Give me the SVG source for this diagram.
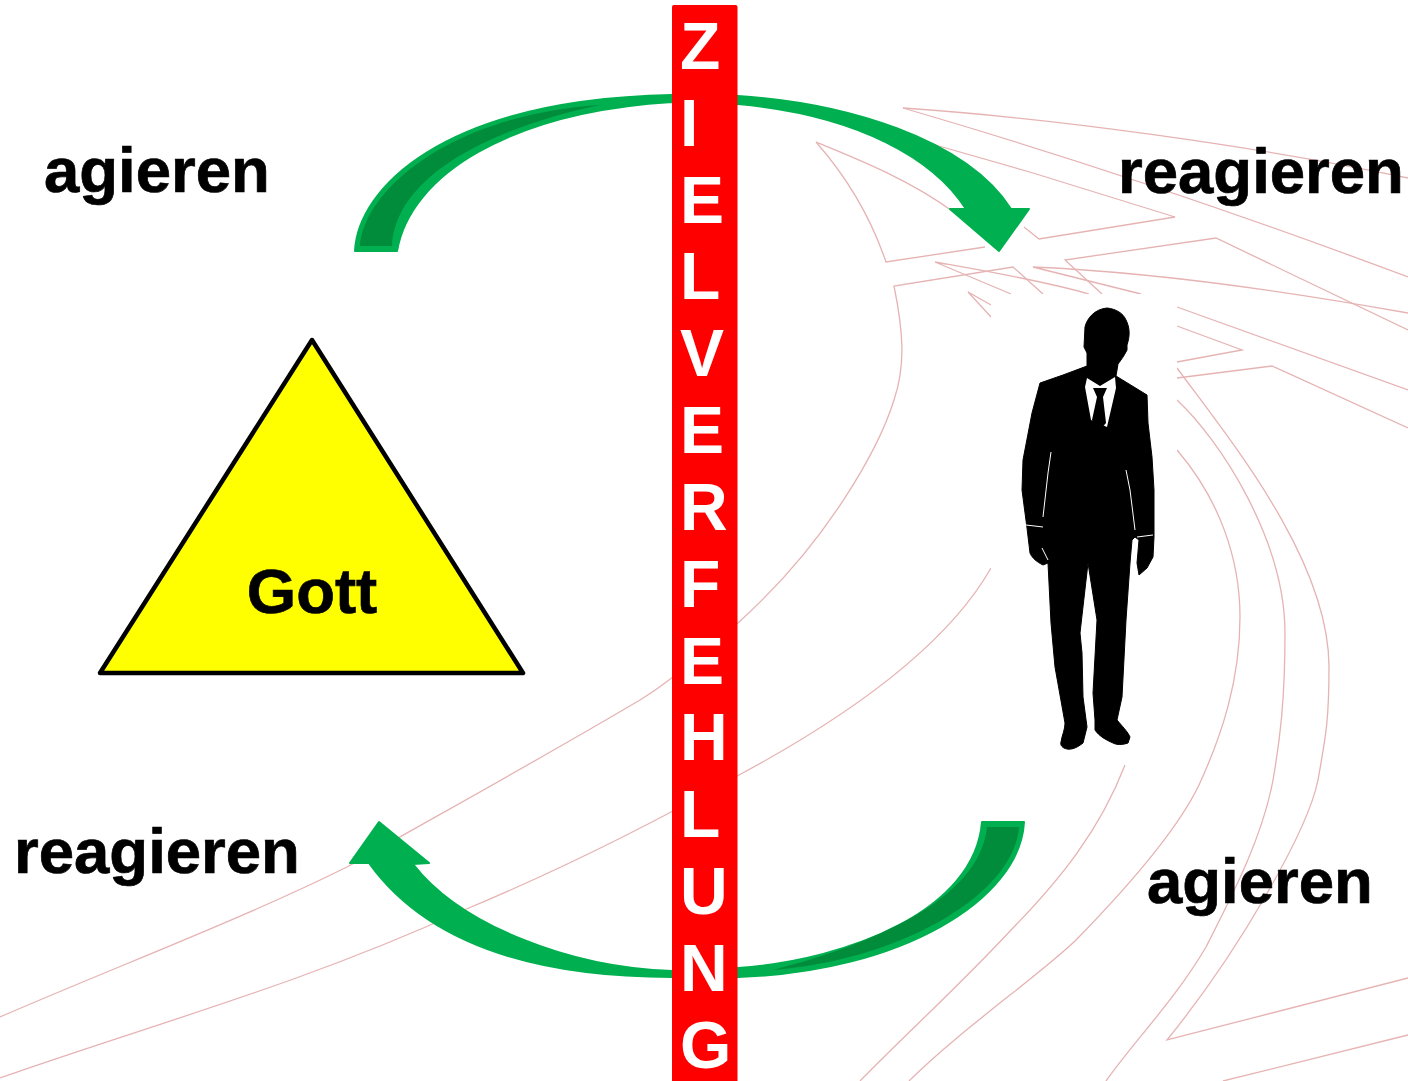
<svg xmlns="http://www.w3.org/2000/svg" width="1408" height="1081" viewBox="0 0 1408 1081">
<style>
.bg{fill:none;stroke:#e6b3b3;stroke-width:1.3}
.lbl{font-family:"Liberation Sans",Arial,sans-serif;font-weight:700;font-size:63.5px;fill:#000;stroke:#000;stroke-width:.7}
.bar{font-family:"Liberation Sans",Arial,sans-serif;font-weight:700;font-size:66px;fill:#fff}
.arrow{fill:#00b050;stroke:#00b050;stroke-width:2;stroke-linejoin:round}
.tail{fill:#008c3a}
</style>
<rect width="1408" height="1081" fill="#fff"/>
<g id="background-lines">
<path class="bg" d="M903,108 C1050,118 1250,145 1408,178"/>
<path class="bg" d="M903,108 Q1150,180 1408,277"/>
<path class="bg" d="M925,142 L1033,173 L1175,217 L1039,239 L1024,227"/>
<path class="bg" d="M985,247 L886,262 C870,215 845,175 816,142 C860,160 910,180 955,213"/>
<path class="bg" d="M1102,294 L1065,260 L1216,238 L1408,330"/>
<path class="bg" d="M1141,294 L1033,267 C1150,272 1280,290 1408,313"/>
<path class="bg" d="M1177,307 L1408,390"/>
<path class="bg" d="M1177,326 L1242,350 L1177,362"/>
<path class="bg" d="M1177,378 L1272,366 L1408,428"/>
<path class="bg" d="M1011,294 L935,262 C980,270 1040,280 1089,294"/>
<path class="bg" d="M1043,294 L1013,267 L894,286 C903,330 906,365 894,400 C880,445 830,540 739,622 C700,655 672,680 640,700 C530,765 420,825 347,867 C240,920 120,965 0,1017"/>
<path class="bg" d="M992,318 L968,292 L1000,310"/>
<path class="bg" d="M991,568 C950,640 860,710 739,775 C650,825 560,870 464,910 C300,985 150,1025 0,1078"/>
<path class="bg" d="M1177,450 C1220,500 1240,560 1240,617 C1240,680 1222,735 1199,785 C1175,835 1120,895 1076,940 C1040,975 960,1030 909,1081"/>
<path class="bg" d="M1125,765 C1100,830 1060,880 1011,930 C960,985 910,1030 860,1081"/>
<path class="bg" d="M1177,400 C1220,440 1285,540 1285,633 C1285,700 1280,740 1273,780 C1263,835 1235,890 1206,947 C1175,1000 1135,1040 1106,1081"/>
<path class="bg" d="M1177,368 C1230,440 1329,560 1329,667 C1329,720 1326,735 1318,780 C1308,830 1240,950 1167,1040 L1408,978"/>
<path class="bg" d="M1223,1081 L1408,1035"/>
</g>
<g id="connectors">
<g id="arrow-top">
<path class="arrow" d="M355,251 C358,190 440,100 672,95 L738,96 C845,103 965,138 1011,209 L1029,209 L999,251 L950,209 L966,209 C935,160 860,115 738,104 L672,102 C510,112 410,175 397,251 Z"/>
<path class="tail" d="M360,246 C364,190 450,115 600,105 C505,125 396,170 392,246 Z"/>
</g>
<g id="arrow-bottom">
<path class="arrow" d="M982,822 H1024 C1020,900 900,972 738,977 L672,977 C560,977 435,955 369,863 L350,863 L379,822 L429,863 L413,864 C460,925 570,968 672,971 L738,968 C850,960 975,910 982,822 Z"/>
<path class="tail" d="M987,827 H1019 C1014,895 900,960 773,970 C870,945 980,900 987,827 Z"/>
</g>
</g>
<g id="node-zielverfehlung">
<rect x="672" y="5" width="65.500" height="1078" rx="2" fill="#ff0000"/>
<text class="bar" x="680" y="69">Z</text>
<text class="bar" x="680" y="146">I</text>
<text class="bar" x="680" y="222.500">E</text>
<text class="bar" x="680" y="299">L</text>
<text class="bar" x="680" y="376">V</text>
<text class="bar" x="680" y="453">E</text>
<text class="bar" x="680" y="530">R</text>
<text class="bar" x="680" y="606.500">F</text>
<text class="bar" x="680" y="683.500">E</text>
<text class="bar" x="680" y="760">H</text>
<text class="bar" x="680" y="837">L</text>
<text class="bar" x="680" y="914">U</text>
<text class="bar" x="680" y="991">N</text>
<text class="bar" x="680" y="1067.500">G</text>
</g>
<g id="node-gott">
<path d="M312,340 L523,673 L100,673 Z" fill="#ffff00" stroke="#000" stroke-width="4.500" stroke-linejoin="round"/>
<text class="lbl" x="312" y="613" text-anchor="middle">Gott</text>
</g>
<g id="node-mensch">
<rect x="991" y="294" width="186" height="471" fill="#fff"/>
<path d="M1107,308 C1116,309 1123,313 1126,320 C1130,328 1130,336 1127,345 L1127,350 C1124,356 1121,360 1118,364 L1116,376 L1147,395 L1148,423 L1152,457 L1154,490 L1154,537 L1153,557 L1147,568 L1139,575 L1137,563 L1139,540 L1135,537 L1132,540 L1130,563 L1126,620 L1122,697 L1117,720 C1122,726 1128,732 1130,737 L1128,743 C1122,745 1117,745 1113,743 C1106,740 1099,736 1095,730 L1095,720 L1093,693 L1097,620 L1088,563 L1080,633 L1082,653 L1083,697 L1087,727 L1083,743 C1078,747 1072,750 1067,749 C1062,748 1060,745 1061,742 C1062,735 1065,730 1065,723 L1055,667 L1051,623 L1048,563 L1043,565 C1037,562 1032,558 1030,553 L1027,528 L1022,490 L1023,460 L1032,413 L1040,383 L1063,375 L1087,366 L1087,353 L1084,347 L1085,327 C1087,318 1095,309 1107,308 Z" fill="#000" stroke="#000" stroke-width="1" stroke-linejoin="round"/>
<path d="M1087,378 L1100,386 L1115,377 L1116,388 L1107,427 L1091,420 L1085,387 Z" fill="#fff"/>
<path d="M1093,388 L1107,388 L1103,397 L1106,423 L1098,432 L1092,420 L1097,397 Z" fill="#000"/>
<path d="M1051,452 L1048,473 L1043,517 M1126,470 L1130,490 L1135,530 M1026,525 L1043,527 M1137,537 L1153,535 M1042,548 L1048,560" fill="none" stroke="#fff" stroke-width="1"/>
</g>
<g id="labels">
<text class="lbl" x="44" y="192">agieren</text>
<text class="lbl" x="1118" y="193">reagieren</text>
<text class="lbl" x="14" y="873">reagieren</text>
<text class="lbl" x="1147" y="903">agieren</text>
</g>
</svg>
